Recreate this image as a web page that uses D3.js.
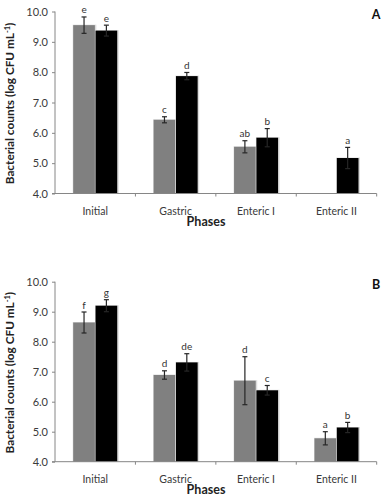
<!DOCTYPE html>
<html><head><meta charset="utf-8">
<script src="https://cdn.jsdelivr.net/npm/d3@7"></script>
<style>body{margin:0;background:#fff}svg{display:block}</style>
</head><body>
<script>
const phases = ["Initial", "Gastric", "Enteric I", "Enteric II"];
const yTicks = [4, 5, 6, 7, 8, 9, 10];
// Panel A
const aGrey = [9.55, 6.43, 5.54, null];
const aGreyErr = [0.27, 0.10, 0.20, null];
const aBlack = [9.37, 7.87, 5.84, 5.17];
const aBlackErr = [0.18, 0.12, 0.30, 0.35];
const aGreyLbl = ["e", "c", "ab", ""];
const aBlackLbl = ["e", "d", "b", "a"];
// Panel B
const bGrey = [8.64, 6.89, 6.70, 4.78];
const bGreyErr = [0.35, 0.14, 0.80, 0.22];
const bBlack = [9.20, 7.31, 6.38, 5.14];
const bBlackErr = [0.20, 0.29, 0.16, 0.17];
const bGreyLbl = ["f", "d", "d", "a"];
const bBlackLbl = ["g", "de", "c", "b"];

const W = 383, H = 500;
const svg = d3.select("body").append("svg").attr("width", W).attr("height", H);
const FONT = "Lato, 'Open Sans', sans-serif";

function panel(cfg) {
  const g = svg.append("g");
  const x = d3.scaleBand().domain(phases).range([55, 376.7]);
  const y = d3.scaleLinear().domain([4, 10]).range([cfg.y0, cfg.y1]);
  const inner = d3.scaleBand().domain(["g", "b"]).range([18.2, x.bandwidth() - 18.2]).paddingInner(0.03);

  // bars
  const series = [
    {k: "g", v: cfg.grey, e: cfg.greyErr, l: cfg.greyLbl, c: "#808080"},
    {k: "b", v: cfg.black, e: cfg.blackErr, l: cfg.blackLbl, c: "#000000"}
  ];
  series.forEach(s => {
    phases.forEach((p, i) => {
      const v = s.v[i];
      if (v == null) return;
      const bx = x(p) + inner(s.k), bw = inner.bandwidth();
      g.append("rect").attr("x", bx - 0.5).attr("y", y(v) - 0.5).attr("width", bw + 2).attr("height", y(4) - y(v) + 0.5)
        .attr("fill", "#dcdcdc");
      g.append("rect").attr("x", bx).attr("y", y(v)).attr("width", bw).attr("height", y(4) - y(v))
        .attr("fill", s.c);
    });
  });
  series.forEach(s => {
    phases.forEach((p, i) => {
      const v = s.v[i];
      if (v == null) return;
      const bx = x(p) + inner(s.k), bw = inner.bandwidth();
      const cx = bx + bw / 2, e = s.e[i];
      const top = y(v + e), bot = y(v - e);
      g.append("line").attr("x1", cx).attr("x2", cx).attr("y1", top).attr("y2", bot).attr("stroke", "#262626").attr("stroke-width", 1.2);
      [top, bot].forEach(yy => g.append("line").attr("x1", cx - 2.5).attr("x2", cx + 2.5).attr("y1", yy).attr("y2", yy).attr("stroke", "#262626").attr("stroke-width", 1.2));
      if (s.l[i]) g.append("text").attr("x", cx).attr("y", top - 3.5).attr("text-anchor", "middle")
        .attr("font-family", FONT).attr("font-size", 10).attr("fill", "#333").text(s.l[i]);
    });
  });

  // y axis
  const ya = g.append("g").attr("transform", "translate(55,0)")
    .call(d3.axisLeft(y).tickValues(yTicks).tickFormat(d3.format(".1f")).tickSize(3).tickPadding(4));
  ya.select(".domain").attr("stroke", "#868686").attr("d", `M0,${cfg.y0}V${cfg.y1}`);
  ya.selectAll(".tick line").attr("stroke", "#868686");
  ya.selectAll("text").attr("font-family", FONT).attr("font-size", 11).attr("fill", "#3a3a3a");

  // x axis
  const xa = g.append("g").attr("transform", `translate(0,${cfg.y0})`)
    .call(d3.axisBottom(x).tickSize(0).tickPadding(14));
  xa.select(".domain").attr("stroke", "#868686").attr("d", `M52,0H376.7`);
  xa.selectAll("text").attr("font-family", FONT).attr("font-size", 10.5).attr("fill", "#3a3a3a");
  phases.forEach((p, i) => {
    if (i === 0) return;
    g.append("line").attr("x1", x(p)).attr("x2", x(p)).attr("y1", cfg.y0).attr("y2", cfg.y0 + 3).attr("stroke", "#868686");
  });
  g.append("line").attr("x1", 376.7).attr("x2", 376.7).attr("y1", cfg.y0).attr("y2", cfg.y0 + 3).attr("stroke", "#868686");

  g.append("text").attr("x", 206).attr("y", cfg.y0 + 32).attr("text-anchor", "middle")
    .attr("font-family", FONT).attr("font-weight", "bold").attr("font-size", 12.5).attr("fill", "#222").text("Phases");

  const yl = g.append("text").attr("transform", `translate(14,${(cfg.y0 + cfg.y1) / 2 + 1}) rotate(-90)`)
    .attr("text-anchor", "middle").attr("font-family", FONT).attr("font-weight", "bold").attr("font-size", 11.8).attr("fill", "#222");
  yl.append("tspan").text("Bacterial counts (log CFU mL");
  yl.append("tspan").attr("font-size", 7.5).attr("dy", -4).text("-1");
  yl.append("tspan").attr("dy", 4).text(")");

  g.append("text").attr("x", 376).attr("y", cfg.y1 + 7).attr("text-anchor", "middle")
    .attr("font-family", FONT).attr("font-weight", "bold").attr("font-size", 12.5).attr("fill", "#111").text(cfg.tag);
}

panel({y0: 193.5, y1: 11.5, grey: aGrey, greyErr: aGreyErr, black: aBlack, blackErr: aBlackErr, greyLbl: aGreyLbl, blackLbl: aBlackLbl, tag: "A"});
panel({y0: 461.7, y1: 281.7, grey: bGrey, greyErr: bGreyErr, black: bBlack, blackErr: bBlackErr, greyLbl: bGreyLbl, blackLbl: bBlackLbl, tag: "B"});
</script>
</body></html>
